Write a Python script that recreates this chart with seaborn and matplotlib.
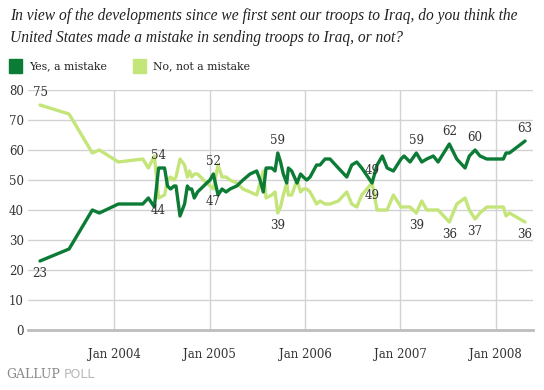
import numpy as np
import pandas as pd
import matplotlib
matplotlib.use("Agg")
import matplotlib.pyplot as plt
from matplotlib.patches import Rectangle
import seaborn as sns

# ---- data ----
poll_year = [2003.220, 2003.525, 2003.769, 2003.843, 2004.042, 2004.298, 2004.357, 2004.420,
             2004.464, 2004.527, 2004.558, 2004.590, 2004.626, 2004.647, 2004.689, 2004.737,
             2004.766, 2004.789, 2004.812, 2004.839, 2004.873, 2004.905, 2004.970, 2005.004,
             2005.039, 2005.088, 2005.130, 2005.172, 2005.214, 2005.284, 2005.350, 2005.424,
             2005.494, 2005.529, 2005.563, 2005.592, 2005.652, 2005.686, 2005.715, 2005.744,
             2005.773, 2005.809, 2005.826, 2005.861, 2005.917, 2005.954, 2005.983, 2006.019,
             2006.054, 2006.088, 2006.122, 2006.158, 2006.211, 2006.263, 2006.350, 2006.439,
             2006.491, 2006.544, 2006.596, 2006.704, 2006.757, 2006.812, 2006.862, 2006.928,
             2007.008, 2007.040, 2007.103, 2007.169, 2007.226, 2007.278, 2007.347, 2007.397,
             2007.515, 2007.593, 2007.680, 2007.725, 2007.785, 2007.837, 2007.908, 2007.995,
             2008.082, 2008.110, 2008.145, 2008.310]
yes_mistake = [23, 27, 40, 39, 42, 42, 44, 41, 54, 54, 48, 47, 48, 48, 38, 42,
               48, 47, 47, 44, 46, 47, 49, 50, 52, 45, 47, 46, 47, 48, 50, 52,
               53, 50, 46, 54, 54, 53, 59, 56, 52, 49, 54, 53, 49, 52, 51, 50,
               51, 53, 55, 55, 57, 57, 54, 51, 55, 56, 54, 49, 55, 58, 54, 53,
               57, 58, 56, 59, 56, 57, 58, 56, 62, 57, 54, 58, 60, 58, 57, 57,
               57, 59, 59, 63]
no_mistake = [75, 72, 59, 60, 56, 57, 54, 58, 44, 45, 50, 51, 50, 51, 57, 55,
              51, 53, 51, 52, 52, 51, 49, 48, 47, 55, 51, 51, 50, 49, 47, 46,
              45, 49, 53, 44, 45, 46, 39, 41, 45, 49, 45, 45, 50, 46, 47, 47,
              46, 44, 42, 43, 42, 42, 43, 46, 42, 41, 45, 49, 40, 40, 40, 45,
              41, 41, 41, 39, 43, 40, 40, 40, 36, 42, 44, 40, 37, 39, 41, 41,
              41, 38, 39, 36]
series_names = ["Yes, a mistake", "No, not a mistake"]
labeled_points = [0, 8, 24, 38, 59, 67, 72, 76, 83]
year_ticks = [2004, 2005, 2006, 2007, 2008]
year_tick_labels = ["Jan 2004", "Jan 2005", "Jan 2006", "Jan 2007", "Jan 2008"]
pct_ticks = [0, 10, 20, 30, 40, 50, 60, 70, 80]
title_lines = ["In view of the developments since we first sent our troops to Iraq, do you think the",
               "United States made a mistake in sending troops to Iraq, or not?"]

# ---- styling ----
DARK = "#0b7b36"
LIGHT = "#c4e57a"
TEXT = "#333333"
GRID = "#d2d2d2"
SERIF = ["DejaVu Serif"]
TITLE_FONT = ["Liberation Serif", "DejaVu Serif"]

sns.set_theme(style="white")
plt.rcParams["font.family"] = SERIF

df = pd.DataFrame({
    "year": poll_year * 2,
    "pct": yes_mistake + no_mistake,
    "series": [series_names[0]] * len(poll_year) + [series_names[1]] * len(poll_year),
})

W, H = 544, 390
fig = plt.figure(figsize=(W / 100, H / 100), dpi=100)
ax = fig.add_axes([28 / W, 1 - 330 / H, (533 - 28) / W, (330 - 90) / H])

sns.lineplot(data=df, x="year", y="pct", hue="series",
             hue_order=[series_names[1], series_names[0]],
             palette={series_names[0]: DARK, series_names[1]: LIGHT},
             linewidth=2.4, legend=False, ax=ax, sort=False, estimator=None)

ax.set_xlim(2003.094, 2008.393)
ax.set_ylim(0, 80)
ax.set_xticks(year_ticks)
ax.set_xticklabels(year_tick_labels)
ax.set_yticks(pct_ticks)
ax.set_yticklabels([str(v) for v in pct_ticks])
ax.set_xlabel("")
ax.set_ylabel("")
ax.grid(True, color=GRID, linewidth=1.0)
ax.set_axisbelow(True)
for s in ["top", "right", "left"]:
    ax.spines[s].set_visible(False)
ax.spines["bottom"].set_color("#bdbdbd")
ax.spines["bottom"].set_linewidth(2.0)
ax.tick_params(axis="both", length=0, labelsize=8.5, colors=TEXT)
ax.tick_params(axis="x", pad=13)
ax.tick_params(axis="y", pad=3)
for lab in ax.get_yticklabels() + ax.get_xticklabels():
    lab.set_fontfamily(SERIF)

# value labels
for i in labeled_points:
    x = poll_year[i]
    a, b = yes_mistake[i], no_mistake[i]
    hi, lo = max(a, b), min(a, b)
    ax.annotate(str(hi), (x, hi), xytext=(0, 9), textcoords="offset points",
                ha="center", va="center", fontsize=8.6, color=TEXT, annotation_clip=False)
    ax.annotate(str(lo), (x, lo), xytext=(0, -9), textcoords="offset points",
                ha="center", va="center", fontsize=8.6, color=TEXT, annotation_clip=False)

# title
fig.text(10 / W, 1 - 16 / H, title_lines[0], ha="left", va="center",
         fontsize=11.2, style="italic", color="#222222", family=TITLE_FONT)
fig.text(10 / W, 1 - 38 / H, title_lines[1], ha="left", va="center",
         fontsize=11.2, style="italic", color="#222222", family=TITLE_FONT)

# legend
fig.patches.append(Rectangle((9 / W, 1 - 73 / H), 13 / W, 14 / H,
                             transform=fig.transFigure, color=DARK))
fig.text(29 / W, 1 - 66 / H, series_names[0], ha="left", va="center",
         fontsize=7.8, color="#222222")
fig.patches.append(Rectangle((133 / W, 1 - 73 / H), 13 / W, 14 / H,
                             transform=fig.transFigure, color=LIGHT))
fig.text(153 / W, 1 - 66 / H, series_names[1], ha="left", va="center",
         fontsize=7.8, color="#222222")

# footer
fig.text(6 / W, 1 - 375 / H, "GALLUP", ha="left", va="center",
         fontsize=9, color="#8a8a8a", family=SERIF)
fig.text(64 / W, 1 - 375 / H, "POLL", ha="left", va="center",
         fontsize=9, color="#b8b8b8", family=["DejaVu Sans"])

fig.savefig("out.png", dpi=100)
